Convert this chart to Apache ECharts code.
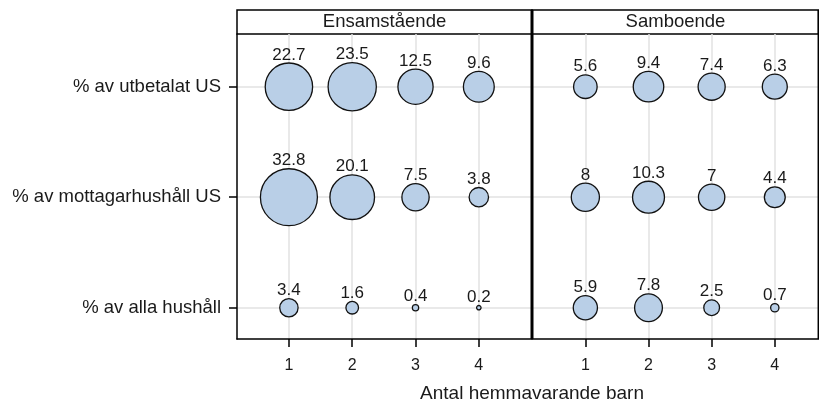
<!DOCTYPE html>
<html>
<head>
<meta charset="utf-8">
<script src="https://cdn.jsdelivr.net/npm/echarts@6/dist/echarts.min.js"></script>
<style>
html,body{margin:0;padding:0;background:#fff;}
#chart{width:819px;height:401px;}
</style>
</head>
<body>
<div id="chart"></div>
<script>
const categories = ['% av utbetalat US', '% av mottagarhushåll US', '% av alla hushåll'];
const children = [1, 2, 3, 4];
const panels = ['Ensamstående', 'Samboende'];
const xTitle = 'Antal hemmavarande barn';

const ensamUtbetalat = [22.7, 23.5, 12.5, 9.6];
const ensamMottagar = [32.8, 20.1, 7.5, 3.8];
const ensamAlla = [3.4, 1.6, 0.4, 0.2];
const samboUtbetalat = [5.6, 9.4, 7.4, 6.3];
const samboMottagar = [8, 10.3, 7, 4.4];
const samboAlla = [5.9, 7.8, 2.5, 0.7];

const panelRows = [
  [ensamUtbetalat, ensamMottagar, ensamAlla],
  [samboUtbetalat, samboMottagar, samboAlla]
];
// category row positions (top row highest)
const rowPos = [3, 2, 1];

function buildData(rows) {
  const out = [];
  rows.forEach((vals, r) => {
    vals.forEach((v, i) => out.push([children[i], rowPos[r], v]));
  });
  return out;
}

const FONT = '"Liberation Sans", Arial, sans-serif';
const TXT = '#1a1a1a';
const GRIDC = '#e2e2e2';

const chart = echarts.init(document.getElementById('chart'), null, {renderer: 'canvas'});

const grids = [
  {left: 237, top: 34, width: 295, height: 305},
  {left: 532, top: 34, width: 287, height: 305}
];
const xRanges = [[0.18, 4.84], [0.155, 4.70]];

const xAxes = grids.map((g, i) => ({
  type: 'value', gridIndex: i, min: xRanges[i][0], max: xRanges[i][1],
  axisLine: {show: true, onZero: false, lineStyle: {color: '#000', width: 1.5}},
  axisTick: {show: true, length: 8, customValues: children, lineStyle: {color: '#000', width: 1.5}},
  axisLabel: {customValues: children, fontSize: 16, color: TXT, fontFamily: FONT, margin: 19,
    textStyle: {fontSize: 16}},
  splitLine: {show: true, lineStyle: {color: GRIDC, width: 1.5}}
}));

const yAxes = grids.map((g, i) => ({
  type: 'value', gridIndex: i, min: 0.717, max: 3.477,
  axisLine: {show: i === 0, onZero: false, lineStyle: {color: '#000', width: 1.5}},
  axisTick: {show: i === 0, length: 8, customValues: rowPos, lineStyle: {color: '#000', width: 1.5}},
  axisLabel: {show: i === 0, customValues: rowPos, fontSize: 18.5, color: TXT, fontFamily: FONT, margin: 16,
    formatter: v => categories[rowPos.indexOf(Math.round(v))] || ''},
  splitLine: {show: true, lineStyle: {color: GRIDC, width: 1.5}}
}));

const series = panelRows.map((rows, i) => ({
  type: 'scatter', xAxisIndex: i, yAxisIndex: i,
  data: buildData(rows),
  symbolSize: d => 9.95 * Math.sqrt(d[2]),
  itemStyle: {color: '#b9cfe7', borderColor: '#111', borderWidth: 1.3, opacity: 1},
  label: {show: true, position: 'top', distance: -1, formatter: p => String(p.value[2]),
    fontSize: 17, color: TXT, fontFamily: FONT},
  emphasis: {disabled: true},
  silent: true
}));

const graphic = [
  // header boxes
  {type: 'rect', shape: {x: 237, y: 10, width: 295, height: 24}, style: {fill: 'none', stroke: '#000', lineWidth: 1.5}},
  {type: 'rect', shape: {x: 532, y: 10, width: 286.5, height: 24}, style: {fill: 'none', stroke: '#000', lineWidth: 1.5}},
  {type: 'text', x: 384.5, y: 22, style: {text: panels[0], font: '18.5px ' + FONT, fill: TXT, align: 'center', verticalAlign: 'middle'}},
  {type: 'text', x: 675.5, y: 22, style: {text: panels[1], font: '18.5px ' + FONT, fill: TXT, align: 'center', verticalAlign: 'middle'}},
  // panel divider (thick) and right border
  {type: 'line', shape: {x1: 532, y1: 10, x2: 532, y2: 339}, style: {stroke: '#000', lineWidth: 3}, z: 10},
  {type: 'line', shape: {x1: 818.3, y1: 10, x2: 818.3, y2: 339}, style: {stroke: '#000', lineWidth: 1.5}, z: 10},
  // x axis title
  {type: 'text', x: 532, y: 394, style: {text: xTitle, font: '19px ' + FONT, fill: TXT, align: 'center', verticalAlign: 'middle'}}
];

chart.setOption({
  animation: false,
  backgroundColor: '#fff',
  grid: grids,
  xAxis: xAxes,
  yAxis: yAxes,
  series: series,
  graphic: graphic
});
</script>
</body>
</html>
